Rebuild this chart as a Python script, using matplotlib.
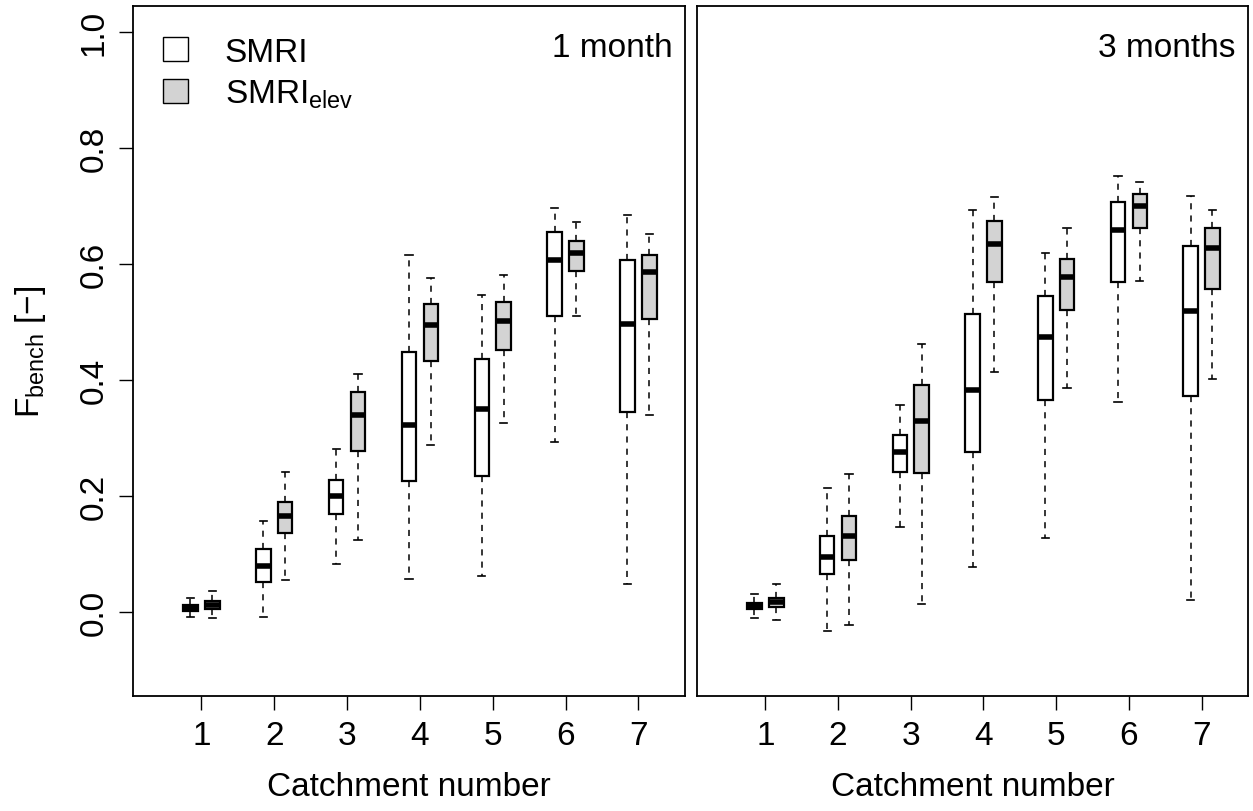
import numpy as np
import matplotlib.pyplot as plt
from matplotlib.patches import Patch

plt.rcParams['font.family'] = ['Liberation Sans', 'DejaVu Sans']
plt.rcParams['mathtext.default'] = 'regular'

catchments = [1, 2, 3, 4, 5, 6, 7]
panel_titles = ["1 month", "3 months"]
series_names = ["SMRI", r"SMRI$_{elev}$"]
series_colors = ["white", "#d3d3d3"]

# five-number summaries per catchment: whisker low, Q1, median, Q3, whisker high
smri_1m = [
    [-0.008, 0.003, 0.007, 0.012, 0.024],
    [-0.008, 0.052, 0.079, 0.109, 0.157],
    [0.084, 0.169, 0.200, 0.228, 0.282],
    [0.057, 0.226, 0.323, 0.448, 0.615],
    [0.062, 0.234, 0.350, 0.437, 0.547],
    [0.293, 0.510, 0.606, 0.655, 0.697],
    [0.049, 0.345, 0.496, 0.607, 0.685],
]
elev_1m = [
    [-0.010, 0.006, 0.013, 0.019, 0.037],
    [0.056, 0.136, 0.166, 0.190, 0.241],
    [0.124, 0.278, 0.339, 0.379, 0.410],
    [0.288, 0.433, 0.494, 0.531, 0.576],
    [0.326, 0.451, 0.502, 0.534, 0.580],
    [0.510, 0.588, 0.619, 0.640, 0.672],
    [0.339, 0.505, 0.586, 0.616, 0.652],
]
smri_3m = [
    [-0.009, 0.006, 0.011, 0.017, 0.032],
    [-0.032, 0.066, 0.096, 0.132, 0.214],
    [0.147, 0.241, 0.276, 0.305, 0.357],
    [0.078, 0.276, 0.382, 0.513, 0.693],
    [0.128, 0.366, 0.474, 0.544, 0.618],
    [0.363, 0.568, 0.658, 0.706, 0.752],
    [0.021, 0.372, 0.519, 0.631, 0.717],
]
elev_3m = [
    [-0.013, 0.009, 0.018, 0.025, 0.048],
    [-0.022, 0.090, 0.131, 0.166, 0.238],
    [0.014, 0.240, 0.329, 0.392, 0.462],
    [0.413, 0.569, 0.635, 0.674, 0.715],
    [0.387, 0.520, 0.578, 0.609, 0.662],
    [0.570, 0.661, 0.699, 0.721, 0.741],
    [0.401, 0.557, 0.628, 0.662, 0.693],
]

panels = [(smri_1m, elev_1m), (smri_3m, elev_3m)]


def to_stats(rows):
    return [dict(whislo=r[0], q1=r[1], med=r[2], q3=r[3], whishi=r[4], fliers=[])
            for r in rows]


fig = plt.figure(figsize=(12.53, 8.12), dpi=100)
ax1 = fig.add_axes([0.1061, 0.1416, 0.4406, 0.8498])
ax2 = fig.add_axes([0.5563, 0.1416, 0.4398, 0.8498])

fs = 24
x = np.array(catchments)
for ax, (s1, s2), title in zip([ax1, ax2], panels, panel_titles):
    for data, off, col in zip([s1, s2], [-0.15, 0.15], series_colors):
        ax.bxp(to_stats(data), positions=x + off, widths=0.2, capwidths=0.1,
               patch_artist=True, showfliers=False,
               boxprops=dict(facecolor=col, edgecolor='black', linewidth=1.6),
               medianprops=dict(color='black', linewidth=4, solid_capstyle='butt'),
               whiskerprops=dict(color='black', linewidth=1.1, linestyle=(0, (4, 4))),
               capprops=dict(color='black', linewidth=1.2))
    ax.set_xlim(0.06, 7.64)
    ax.set_ylim(-0.144, 1.044)
    ax.set_xticks(x)
    ax.set_xticklabels([str(c) for c in catchments])
    ax.tick_params(axis='both', labelsize=fs, length=10, width=1, direction='out', pad=7)
    for sp in ax.spines.values():
        sp.set_linewidth(1.3)
    ax.set_xlabel("Catchment number", fontsize=fs, labelpad=15)
    ax.text(0.978, 0.94, title, transform=ax.transAxes, ha='right', va='center',
            fontsize=fs)

ax1.set_yticks([0.0, 0.2, 0.4, 0.6, 0.8, 1.0])
ax1.set_yticklabels(["0.0", "0.2", "0.4", "0.6", "0.8", "1.0"], rotation=90, va='center')
ax1.set_ylabel(r"F$_{bench}$ [−]", fontsize=fs, labelpad=22)
ax2.set_yticks([])

handles = [Patch(facecolor=c, edgecolor='black', linewidth=1) for c in series_colors]
ax1.legend(handles, series_names, loc='upper left', frameon=False, fontsize=fs,
           handlelength=0.75, handleheight=0.75, handletextpad=1.1, labelspacing=0.3,
           bbox_to_anchor=(0.03, 0.975), borderaxespad=0)

fig.savefig("out.png", dpi=100)
